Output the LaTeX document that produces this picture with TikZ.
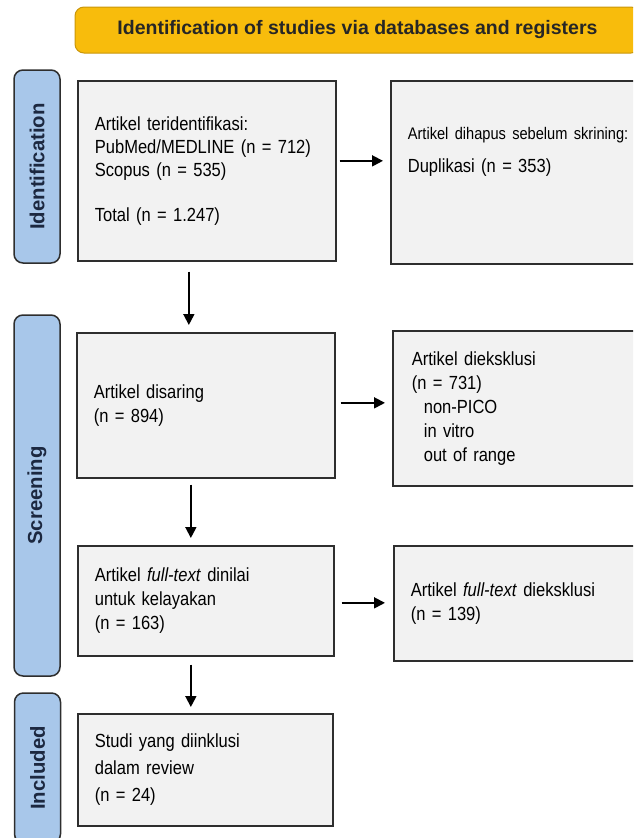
\documentclass[tikz,border=0pt]{standalone}
\usepackage{fontspec}
\setmainfont[FakeStretch=0.87, WordSpace=0.62]{Liberation Sans}
\newfontfamily\headfont{Liberation Sans}
\usepackage{xcolor}
\usetikzlibrary{arrows.meta}
\definecolor{banner}{HTML}{F8BC0C}
\definecolor{bannerline}{HTML}{C9960A}
\definecolor{tabblue}{HTML}{A8C7EA}
\definecolor{tabtext}{HTML}{1C2840}
\definecolor{boxfill}{HTML}{F2F2F2}
\definecolor{boxline}{HTML}{2E2E2E}

\begin{document}
\begin{tikzpicture}[x=1pt, y=-1pt,
	phase/.style={draw=boxline, line width=1.5pt, fill=tabblue, rounded corners=9pt, rotate=90, minimum height=46pt, inner sep=0pt, text=tabtext, font=\headfont\bfseries\fontsize{20.3}{24}\selectfont},
	stage/.style={draw=boxline, line width=1.7pt, fill=boxfill, align=left, inner xsep=17pt, inner ysep=0pt, anchor=north west, font=\fontsize{19}{24}\selectfont},
	flow/.style={line width=1.8pt, -{Triangle[length=11pt,width=11pt]}}]
	\useasboundingbox (0,0) rectangle (633,838);
	\clip (0,0) rectangle (633,838);

	\node[draw=bannerline, fill=banner, line width=1pt, rounded corners=9pt, minimum width=565pt, minimum height=46pt, text=black!85, font=\headfont\bfseries\fontsize{19.5}{23}\selectfont] (banner) at (357.5,30) {Identification of studies via databases and registers};

	\node[phase, minimum width=193pt] (idtab) at (37,166.5) {Identification};
	\node[phase, minimum width=361pt] (scrtab) at (37,495.5) {Screening};
	\node[phase, minimum width=150pt] (inctab) at (37.5,768) {Included};

	\node[stage, minimum width=258pt, minimum height=180pt, text width=224pt, font=\fontsize{19}{23}\selectfont] (found) at (77,80) {Artikel teridentifikasi:\\PubMed/MEDLINE (n = 712)\\Scopus (n = 535)\\[22pt]Total (n = 1.247)};
	\node[stage, minimum width=290pt, minimum height=183pt, text width=256pt] (dupes) at (390,80) {{\fontsize{16.8}{24}\selectfont Artikel dihapus sebelum skrining:}\\[9pt]Duplikasi (n = 353)\\[21pt]\mbox{}};

	\node[stage, minimum width=258pt, minimum height=145pt, text width=224pt] (screened) at (76,332) {Artikel disaring\\(n = 894)};
	\node[stage, minimum width=260pt, minimum height=155pt, text width=222pt, inner xsep=19pt] (excl) at (392,330) {Artikel dieksklusi\\(n = 731)\\\hspace*{12pt}non-PICO\\\hspace*{12pt}in vitro\\\hspace*{12pt}out of range};

	\node[stage, minimum width=256pt, minimum height=110pt, text width=222pt] (fulltext) at (77,545) {Artikel \textit{full-text} dinilai\\untuk kelayakan\\(n = 163)};
	\node[stage, minimum width=260pt, minimum height=115pt, text width=226pt] (ftexcl) at (393,545) {Artikel \textit{full-text} dieksklusi\\(n = 139)};

	\node[stage, minimum width=255pt, minimum height=112pt, text width=221pt, font=\fontsize{19}{27}\selectfont] (included) at (77,713) {Studi yang diinklusi\\dalam review\\(n = 24)};

	\draw[flow, shorten <=3pt, shorten >=7pt] ([yshift=10pt]found.east) -- ([yshift=10pt]found.east -| dupes.west);
	\draw[flow, shorten <=5pt, shorten >=7pt] ([yshift=2.5pt]screened.east) -- ([yshift=2.5pt]screened.east -| excl.west);
	\draw[flow, shorten <=7pt, shorten >=8pt] ([yshift=-2pt]fulltext.east) -- ([yshift=-2pt]fulltext.east -| ftexcl.west);

	\draw[flow, shorten <=10pt, shorten >=7pt] ([xshift=-18pt]found.south) -- ([xshift=-18pt]found.south |- screened.north);
	\draw[flow, shorten <=6pt, shorten >=7pt] ([xshift=-15pt]screened.south) -- ([xshift=-15pt]screened.south |- fulltext.north);
	\draw[flow, shorten <=8pt, shorten >=6pt] ([xshift=-15pt]fulltext.south) -- ([xshift=-15pt]fulltext.south |- included.north);
\end{tikzpicture}
\end{document}
